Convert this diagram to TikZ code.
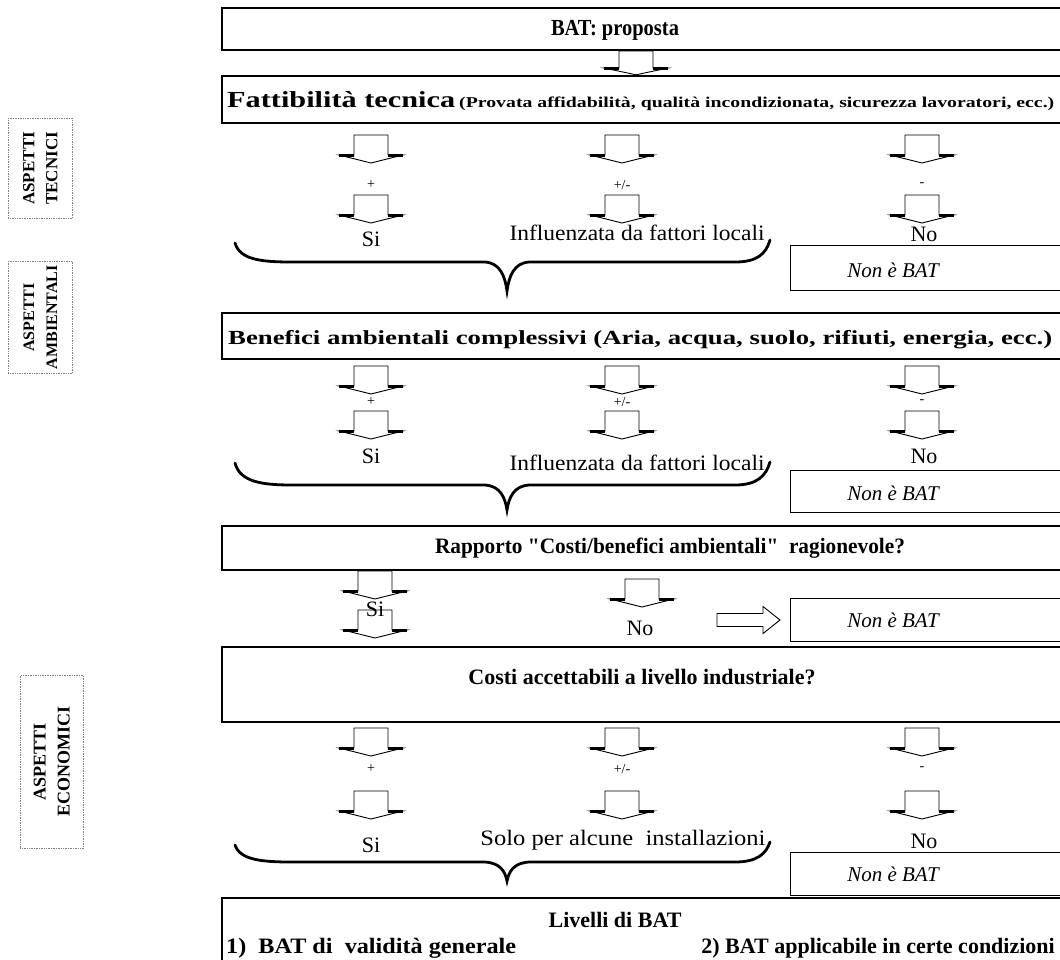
\documentclass[tikz,border=0pt]{standalone}
\usepackage{fontspec}
\setmainfont{Liberation Serif}[Ligatures=TeXOff]
\usepackage{graphicx}
\begin{document}
\begin{tikzpicture}[x=1pt,y=-1pt,
  mainbox/.style={draw=black, line width=1.3pt},
  sidebox/.style={draw=black!50, line width=0.7pt, densely dotted},
  nonbox/.style={draw=black, line width=1pt},
  txt/.style={inner sep=0pt, font=\fontsize{22}{24}\selectfont},
  btxt/.style={inner sep=0pt, font=\fontsize{22}{24}\selectfont\bfseries},
  sgn/.style={inner sep=0pt, font=\fontsize{14}{16}\selectfont},
  nonbat/.style={inner sep=0pt, font=\fontsize{21}{24}\selectfont\itshape},
  sidetxt/.style={inner sep=0pt, rotate=90, align=center, font=\fontsize{17}{23}\selectfont\bfseries},
  bracestyle/.style={line width=2.8pt, line cap=round},
  darr/.pic={
    \draw[line width=0.9pt, fill=white] (-17,0) -- (17,0) -- (17,20) -- (32,20) -- (0,28) -- (-32,20) -- (-17,20) -- cycle;
    \draw[line width=2.6pt] (17,20.5) -- (32,20.5) (-17,20.5) -- (-32,20.5);
  },
  rarr/.pic={
    \draw[line width=0.9pt, fill=white] (0,-6.5) -- (46,-6.5) -- (46,-13.5) -- (63,0) -- (46,13.5) -- (46,6.5) -- (0,6.5) -- cycle;
  }
]
\useasboundingbox (0,0) rectangle (1060,959);
\fill[white] (0,0) rectangle (1060,959);

% ---------- side labels ----------
\node[sidebox, minimum width=64, minimum height=100, anchor=north west, inner sep=0pt] (tec) at (8,118) {};
\node[sidetxt] (tect) at (tec.center) {ASPETTI\\TECNICI};
\node[sidebox, minimum width=64, minimum height=112, anchor=north west, inner sep=0pt] (amb) at (8,261) {};
\node[sidetxt, font=\fontsize{16}{23}\selectfont\bfseries] (ambt) at (amb.center) {ASPETTI\\AMBIENTALI};
\node[sidebox, minimum width=63, minimum height=173, anchor=north west, inner sep=0pt] (eco) at (20,675) {};
\node[sidetxt, font=\fontsize{18}{24}\selectfont\bfseries] (ecot) at (eco.center) {ASPETTI\\ECONOMICI};

% ---------- main boxes ----------
\draw[mainbox] (222,8) rectangle (1070,50);
\node[inner sep=0pt] (b1) at (615,30)
  {\fontsize{23}{26}\selectfont\bfseries\resizebox{128pt}{\height}{BAT: proposta}};
\pic[yscale=0.85] at (636,51) {darr};

\draw[mainbox] (222,76) rectangle (1070,123);
\node[anchor=base west, inner sep=0pt] (b2a) at (227,107)
  {\fontsize{23}{26}\selectfont\bfseries\resizebox{228pt}{\height}{Fattibilità tecnica}};
\node[anchor=base west, inner sep=0pt] (b2b) at (459,107)
  {\fontsize{15}{18}\selectfont\bfseries\resizebox{595pt}{\height}{(Provata affidabilità, qualità incondizionata, sicurezza lavoratori, ecc.)}};

% ---------- row 1 ----------
\foreach \cx/\s in {371/{+},622/{+/-},922/{-}}{
  \pic at (\cx,135) {darr};
  \node[sgn] at (\cx,185) {\s};
  \pic at (\cx,195) {darr};
}
\node[txt] (si1) at (371,239) {Si};
\node[txt] (no1) at (924,234) {No};
\node[inner sep=0pt] (inf1) at (637,233)
  {\fontsize{22}{24}\selectfont\resizebox{255pt}{\height}{Influenzata da fattori locali}};
\draw[bracestyle] (235,243) .. controls (240,260) and (262,262) .. (292,262) -- (485,262)
  .. controls (500,263) and (505,276) .. (507,291)
  .. controls (509,276) and (514,263) .. (529,262) -- (735,262)
  .. controls (757,262) and (766,254) .. (770,240);
\draw[nonbox] (790,245) rectangle (1070,290);
\node[nonbat] (nb1) at (893,270) {Non è BAT};

% ---------- box 3 ----------
\draw[mainbox] (222,313) rectangle (1070,359);
\node[anchor=base west, inner sep=0pt] (b3) at (228,344)
  {\fontsize{20}{23}\selectfont\bfseries\resizebox{824pt}{\height}{Benefici ambientali complessivi (Aria, acqua, suolo, rifiuti, energia, ecc.)}};

% ---------- row 2 ----------
\foreach \cx/\s in {371/{+},622/{+/-},922/{-}}{
  \pic at (\cx,366) {darr};
  \node[sgn] at (\cx,402) {\s};
  \pic at (\cx,411) {darr};
}
\node[txt] (si2) at (371,456) {Si};
\node[txt] (no2) at (924,456) {No};
\node[inner sep=0pt] (inf2) at (637,463)
  {\fontsize{22}{24}\selectfont\resizebox{255pt}{\height}{Influenzata da fattori locali}};
\draw[bracestyle] (235,463) .. controls (240,482) and (262,485) .. (292,485) -- (485,485)
  .. controls (500,486) and (505,497) .. (507,510)
  .. controls (509,497) and (514,486) .. (529,485) -- (735,485)
  .. controls (757,485) and (766,476) .. (770,462);
\draw[nonbox] (790,470) rectangle (1070,512);
\node[nonbat] (nb2) at (893,493) {Non è BAT};

% ---------- box 4 ----------
\draw[mainbox] (222,526) rectangle (1070,570);
\node[inner sep=0pt] (b4) at (670,548)
  {\fontsize{22}{24}\selectfont\bfseries\resizebox{470pt}{\height}{Rapporto "Costi/benefici ambientali"\ \ ragionevole?}};

% ---------- row 3 ----------
\pic at (375,571) {darr};
\pic at (375,610) {darr};
\node[txt] (si3) at (375,609) {Si};
\pic at (642,579) {darr};
\node[txt] (no3) at (640,628) {No};
\pic at (717,620) {rarr};
\draw[nonbox] (790,598) rectangle (1070,641);
\node[nonbat] (nb3) at (893,620) {Non è BAT};

% ---------- box 5 ----------
\draw[mainbox] (222,647) rectangle (1070,722);
\node[btxt] (b5) at (642,677) {Costi accettabili a livello industriale?};

% ---------- row 4 ----------
\foreach \cx/\s in {371/{+},622/{+/-},922/{-}}{
  \pic at (\cx,728) {darr};
  \node[sgn] at (\cx,769) {\s};
  \pic at (\cx,791) {darr};
}
\node[txt] (si4) at (371,845) {Si};
\node[txt] (no4) at (924,841) {No};
\node[inner sep=0pt] (sol) at (623,840)
  {\fontsize{22}{24}\selectfont\resizebox{285pt}{\height}{Solo per alcune\ \ installazioni}};
\draw[bracestyle] (235,845) .. controls (240,860) and (262,862) .. (292,862) -- (485,862)
  .. controls (500,863) and (505,871) .. (507,881)
  .. controls (509,871) and (514,863) .. (529,862) -- (735,862)
  .. controls (757,862) and (766,854) .. (770,842);
\draw[nonbox] (790,852) rectangle (1070,895);
\node[nonbat] (nb4) at (893,874) {Non è BAT};

% ---------- box 6 ----------
\draw[mainbox] (222,898) rectangle (1070,965);
\node[btxt] (b6) at (615,920) {Livelli di BAT};
\node[anchor=base west, inner sep=0pt] (l1) at (226,953)
  {\fontsize{22}{24}\selectfont\bfseries\resizebox{290pt}{\height}{1)\ \ BAT di\ \ validità generale}};
\node[btxt, anchor=base east] (l2) at (1055,953) {2) BAT applicabile in certe condizioni};
\end{tikzpicture}
\end{document}
